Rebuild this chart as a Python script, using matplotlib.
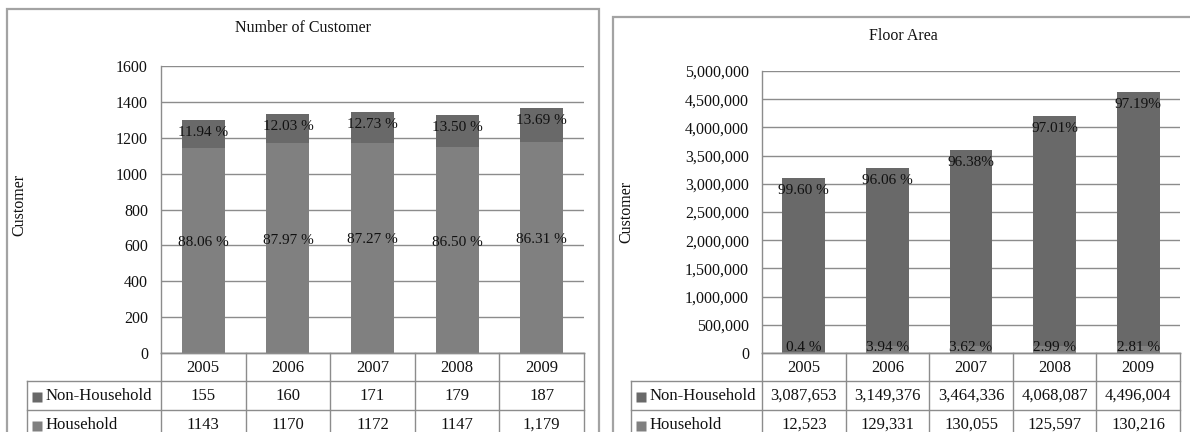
import numpy as np
import matplotlib
matplotlib.use("Agg")
import matplotlib.pyplot as plt
from matplotlib.patches import Rectangle
from matplotlib.ticker import FuncFormatter

plt.rcParams["font.family"] = ["Liberation Serif", "DejaVu Serif"]

# ---------------------------------------------------------------- data
years = ["2005", "2006", "2007", "2008", "2009"]

customer_household = [1143, 1170, 1172, 1147, 1179]
customer_non_household = [155, 160, 171, 179, 187]
customer_household_text = ["1143", "1170", "1172", "1147", "1,179"]
customer_non_household_text = ["155", "160", "171", "179", "187"]
customer_household_pct = ["88.06 %", "87.97 %", "87.27 %", "86.50 %", "86.31 %"]
customer_non_household_pct = ["11.94 %", "12.03 %", "12.73 %", "13.50 %", "13.69 %"]

floor_household = [12523, 129331, 130055, 125597, 130216]
floor_non_household = [3087653, 3149376, 3464336, 4068087, 4496004]
floor_household_pct = ["0.4 %", "3.94 %", "3.62 %", "2.99 %", "2.81 %"]
floor_non_household_pct = ["99.60 %", "96.06 %", "96.38%", "97.01%", "97.19%"]

# ---------------------------------------------------------------- style
W, H = 1190, 432
NON_HH_COLOR = "#696969"
HH_COLOR = "#808080"
LINE = "#8c8c8c"
BORDER = "#a3a3a3"
TEXT = "#111111"
FS = 11.5
TABLE_FS = 12
PCT_FS = 11
ROW_EDGES = [0, 28, 57, 86]  # table row boundaries in pixels below the axis

fig = plt.figure(figsize=(W / 100, H / 100), dpi=100)


def px_rect(x0, y0, x1, y1):
    """Pixel box (top-left origin) -> figure fraction [l, b, w, h]."""
    return [x0 / W, 1 - y1 / H, (x1 - x0) / W, (y1 - y0) / H]


def panel(box, plot_box, table_left, title, title_xy, ylabel_xy, ymax, ystep,
          fmt, household, non_household, hh_pct, nh_pct, hh_text, nh_text,
          hh_label_mode):
    bx0, by0, bx1, by1 = box
    fig.add_artist(Rectangle((bx0 / W, 1 - by1 / H), (bx1 - bx0) / W, (by1 - by0) / H,
                             transform=fig.transFigure, fill=False, ec=BORDER, lw=1.6))
    fig.text(title_xy[0] / W, 1 - title_xy[1] / H, title, ha="center", va="center",
             fontsize=FS, color=TEXT)
    fig.text(ylabel_xy[0] / W, 1 - ylabel_xy[1] / H, "Customer", rotation=90,
             ha="center", va="center", fontsize=FS, color=TEXT)

    x0, y0, x1, y1 = plot_box
    ax = fig.add_axes(px_rect(x0, y0, x1, y1))
    x = np.arange(len(years))
    household = np.asarray(household, dtype=float)
    non_household = np.asarray(non_household, dtype=float)
    totals = household + non_household

    ax.bar(x, household, width=0.51, color=HH_COLOR, zorder=2)
    ax.bar(x, non_household, bottom=household, width=0.51, color=NON_HH_COLOR, zorder=2)

    ax.set_xlim(-0.5, len(years) - 0.5)
    ax.set_ylim(0, ymax)
    ax.set_yticks(np.arange(0, ymax + 1, ystep))
    ax.yaxis.set_major_formatter(FuncFormatter(fmt))
    ax.set_xticks([])
    ax.tick_params(axis="y", length=0, pad=9.4, labelsize=FS, labelcolor=TEXT)
    ax.yaxis.grid(True, color=LINE, lw=1)
    ax.set_axisbelow(True)
    for side in ("top", "right"):
        ax.spines[side].set_visible(False)
    for side in ("left", "bottom"):
        ax.spines[side].set_color(LINE)
        ax.spines[side].set_linewidth(1)

    for xi, top, label in zip(x, totals, nh_pct):
        ax.annotate(label, (xi, top), xytext=(0, -12.5), textcoords="offset pixels",
                    ha="center", va="center", fontsize=PCT_FS, color=TEXT, zorder=3)
    for xi, hh, label in zip(x, household, hh_pct):
        if hh_label_mode == "middle":
            ax.annotate(label, (xi, hh / 2), xytext=(0, 8), textcoords="offset pixels",
                        ha="center", va="center", fontsize=PCT_FS, color=TEXT, zorder=3)
        else:
            ax.annotate(label, (xi, 0), xytext=(0, -1), textcoords="offset pixels",
                        ha="center", va="bottom", fontsize=PCT_FS, color=TEXT, zorder=3)

    # data table under the plot
    tab = fig.add_axes(px_rect(table_left, y1, x1, y1 + ROW_EDGES[-1]))
    col_px = (x1 - x0) / len(years)
    header = (x0 - table_left) / col_px
    left = -0.5 - header
    right = len(years) - 0.5
    tab.set_xlim(left, right)
    tab.set_ylim(ROW_EDGES[-1], 0)
    tab.axis("off")
    lk = dict(color=LINE, lw=1, clip_on=False)
    tab.plot([-0.5, right], [0, 0], **lk)
    for edge in ROW_EDGES[1:]:
        tab.plot([left, right], [edge, edge], **lk)
    for xv in np.arange(-0.5, right + 0.01, 1.0):
        tab.plot([xv, xv], [0, ROW_EDGES[-1]], **lk)
    tab.plot([left, left], [ROW_EDGES[1], ROW_EDGES[-1]], **lk)

    rows = [(years, None, None),
            (nh_text, "Non-Household", NON_HH_COLOR),
            (hh_text, "Household", HH_COLOR)]
    for r, (cells, name, color) in enumerate(rows):
        yc = (ROW_EDGES[r] + ROW_EDGES[r + 1]) / 2 + 0.5
        for xi, cell in zip(x, cells):
            tab.text(xi, yc, cell, ha="center", va="center", fontsize=TABLE_FS, color=TEXT)
        if name:
            tab.plot(left + 9.5 / col_px, yc + 0.5, marker="s", ms=6.8, color=color,
                     mec="none", clip_on=False)
            tab.text(left + 19 / col_px, yc, name, ha="left", va="center",
                     fontsize=TABLE_FS, color=TEXT)
    return ax


panel(box=(7, 9, 599, 460), plot_box=(161, 66, 584, 353), table_left=27,
      title="Number of Customer", title_xy=(303, 28), ylabel_xy=(19, 205),
      ymax=1600, ystep=200, fmt=lambda v, _: f"{v:.0f}",
      household=customer_household, non_household=customer_non_household,
      hh_pct=customer_household_pct, nh_pct=customer_non_household_pct,
      hh_text=customer_household_text, nh_text=customer_non_household_text,
      hh_label_mode="middle")

panel(box=(613, 17, 1200, 460), plot_box=(762, 71, 1180, 353), table_left=631,
      title="Floor Area", title_xy=(903, 36), ylabel_xy=(626, 212),
      ymax=5000000, ystep=500000, fmt=lambda v, _: f"{v:,.0f}",
      household=floor_household, non_household=floor_non_household,
      hh_pct=floor_household_pct, nh_pct=floor_non_household_pct,
      hh_text=[f"{v:,}" for v in floor_household],
      nh_text=[f"{v:,}" for v in floor_non_household],
      hh_label_mode="base")

fig.savefig("out.png", dpi=100, facecolor="white")
